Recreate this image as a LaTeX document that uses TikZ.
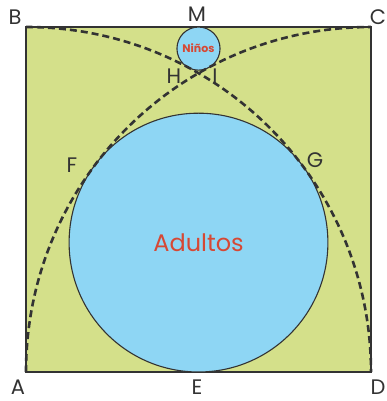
\documentclass[tikz,border=0pt]{standalone}
\usepackage{fontspec}
\setmainfont{Poppins}
\definecolor{grassgreen}{RGB}{212,224,138}
\definecolor{skyblue}{RGB}{142,214,244}
\definecolor{labelred}{RGB}{214,72,52}
\definecolor{inkgray}{RGB}{51,51,51}
\tikzset{
  ptlabel/.style={text=inkgray,font=\fontsize{21}{21}\selectfont,inner sep=0pt},
  dasharc/.style={draw=inkgray,line width=2.6pt,dash pattern=on 7pt off 4pt},
  circ/.style={draw=inkgray,fill=skyblue,line width=1.1pt}
}
\begin{document}
\begin{tikzpicture}[x=1pt,y=1pt]
\useasboundingbox (0,0) rectangle (386,401);
% square corners
\coordinate (A) at (26,29);
\coordinate (B) at (26,374);
\coordinate (C) at (371,374);
\coordinate (D) at (371,29);
\fill[grassgreen] (A) rectangle (C);
\draw[inkgray,line width=1.6pt] (A) -- (B) -- (C) -- (D) -- cycle;
% circles
\node[circ,circle,minimum size=258.8pt,inner sep=0pt] (big) at (198.5,158.4) {};
\node[circ,circle,minimum size=43.1pt,inner sep=0pt] (small) at (198.5,352.4) {};
\node[text=labelred,font=\fontsize{24}{24}\selectfont] (adultos) at (big.center) {Adultos};
\node[text=labelred,font=\bfseries\fontsize{11}{11}\selectfont,inner sep=0pt] (ninos) at (small.center) {Niños};
% dashed arcs
\draw[dasharc] (B) arc[start angle=90,end angle=0,radius=345];
\draw[dasharc] (A) arc[start angle=180,end angle=90,radius=345];
% labels
\node[ptlabel] (lB) at (15,384) {B};
\node[ptlabel] (lM) at (197,387) {M};
\node[ptlabel] (lC) at (378,384) {C};
\node[ptlabel] (lA) at (18,14) {A};
\node[ptlabel] (lE) at (197,14) {E};
\node[ptlabel] (lD) at (378,14) {D};
\node[ptlabel] (lF) at (72,236) {F};
\node[ptlabel] (lG) at (315,241) {G};
\node[ptlabel] (lH) at (174,325) {H};
\node[ptlabel] (lI) at (215,325) {I};
\end{tikzpicture}
\end{document}
